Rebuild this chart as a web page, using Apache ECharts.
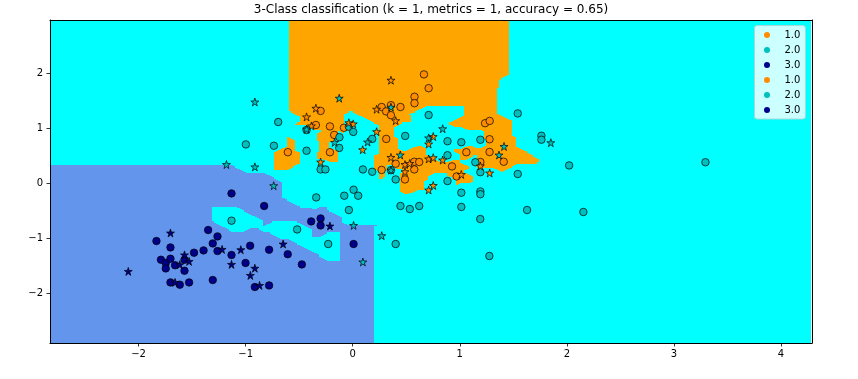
<!DOCTYPE html>
<html><head><meta charset="utf-8">
<script src="https://cdn.jsdelivr.net/npm/echarts@6/dist/echarts.min.js"></script>
<style>html,body{margin:0;padding:0;background:#fff}#c{width:858px;height:379px}</style>
</head><body><div id="c"></div>
<script>
const titleText = '3-Class classification (k = 1, metrics = 1, accuracy = 0.65)';
const classLabels = ['1.0', '2.0', '3.0'];
const xTicks = [-2, -1, 0, 1, 2, 3, 4];
const yTicks = [-2, -1, 0, 1, 2];
const xRange = [-2.827, 4.289];
const yRange = [-2.909, 2.964];
const meshStep = 0.02;

// training points (circles), per class
const trainClass1 = [[0.665,1.975],[0.709,1.724],[0.577,1.569],[0.577,1.451],[0.446,1.382],[0.270,1.382],[0.312,1.302],[0.357,1.415],[0.357,1.233],[-0.300,1.311],[-0.344,1.055],[-0.213,1.029],[-0.173,0.875],[-0.082,1.005],[-0.213,0.560],[-0.606,0.560],[0.313,0.802],[1.236,1.087],[1.279,1.129],[1.278,0.796],[1.061,0.560],[1.278,0.564],[0.575,0.387],[0.621,0.382],[0.927,0.302],[1.192,0.382],[1.410,0.387],[0.575,0.247],[0.488,0.065],[0.971,0.120],[0.401,0.351],[0.270,0.238]];
const trainClass2 = [[-0.696,1.109],[-0.431,0.964],[-0.736,0.678],[-0.431,0.587],[-0.124,0.833],[-0.126,0.638],[-0.036,1.024],[0.005,0.929],[0.182,0.802],[0.490,0.856],[-0.998,0.702],[-0.300,0.247],[-0.255,0.247],[0.095,0.247],[0.182,0.205],[0.357,0.233],[0.401,0.065],[0.885,0.505],[0.885,0.036],[0.885,0.760],[0.709,1.236],[1.541,1.265],[1.014,0.742],[1.192,0.787],[1.762,0.860],[1.762,0.787],[1.145,0.378],[2.021,0.320],[3.294,0.378],[1.192,0.196],[1.541,0.164],[1.014,-0.176],[1.192,-0.153],[1.192,-0.204],[0.446,-0.418],[0.533,-0.473],[0.621,-0.418],[1.014,-0.435],[1.628,-0.491],[2.154,-0.527],[1.191,-0.655],[1.276,-1.327],[0.401,-1.109],[-0.341,-0.262],[-0.079,-0.231],[0.008,-0.122],[0.051,-0.231],[-0.036,-0.491],[-0.519,-0.844],[-0.229,-1.109],[-1.132,-0.685]];
const trainClass3 = [[-1.132,-0.189],[-0.827,-0.418],[-0.388,-0.698],[-0.300,-0.644],[-0.300,-0.771],[0.008,-1.109],[-1.350,-0.855],[-1.263,-0.971],[-1.833,-1.055],[-1.702,-1.171],[-1.307,-1.098],[-1.482,-1.267],[-1.393,-1.225],[-1.263,-1.236],[-1.132,-1.309],[-0.958,-1.140],[-0.781,-1.213],[-0.607,-1.295],[-0.475,-1.480],[-1.001,-1.453],[-0.914,-1.891],[-0.781,-1.862],[-1.307,-1.764],[-1.791,-1.395],[-1.746,-1.455],[-1.702,-1.376],[-1.571,-1.395],[-1.659,-1.495],[-1.746,-1.553],[-1.571,-1.595],[-1.702,-1.807],[-1.615,-1.849],[-1.528,-1.807]];

// test points (stars), per class
const testClass1 = [[0.357,1.869],[-0.344,1.360],[-0.431,1.202],[-0.386,1.038],[-0.036,1.096],[0.005,1.075],[0.223,1.342],[0.401,1.133],[0.223,0.933],[0.093,0.605],[0.357,0.465],[-0.300,0.382],[0.752,0.845],[0.709,0.709],[0.709,0.438],[0.752,0.460],[0.840,0.418],[0.488,0.336],[0.532,0.355],[0.488,0.205],[1.014,0.155],[1.279,0.182],[1.192,0.309],[0.752,-0.045],[0.709,-0.127]];
const testClass2 = [[-0.914,1.473],[-1.179,0.336],[-0.914,0.293],[-0.738,-0.049],[-0.126,1.542],[-0.431,0.978],[-0.169,0.738],[0.139,0.745],[0.357,1.378],[0.444,0.509],[0.840,0.987],[0.709,0.820],[1.850,0.733],[1.413,0.664],[1.366,0.509],[0.008,-0.771],[0.271,-0.958],[0.095,-1.436],[0.357,0.233]];
const testClass3 = [[-0.213,-0.782],[-0.650,-1.109],[-0.914,-1.549],[-0.956,-1.680],[-0.870,-1.862],[-1.702,-0.909],[-1.220,-1.207],[-1.045,-1.213],[-1.132,-1.480],[-1.571,-1.307],[-1.528,-1.425],[-1.615,-1.485],[-2.096,-1.607],[-1.659,-1.807]];

const bgColors = ['#FFA500', '#00FFFF', '#6495ED'];
const ptColors = ['#FF8C00', '#00BFBF', '#00008B'];
const FONT = 'DejaVu Sans';
const STAR = 'path://M50,0L61.23,34.55L97.55,34.55L68.17,55.9L79.39,90.45L50,69.1L20.61,90.45L31.83,55.9L2.45,34.55L38.77,34.55Z';

// 1-nearest-neighbour (manhattan) decision regions from the training points
const train = [];
[trainClass1, trainClass2, trainClass3].forEach((arr, c) => arr.forEach(p => train.push([p[0], p[1], c])));
const h = meshStep;
const nx = Math.ceil((xRange[1] - xRange[0]) / h);
const ny = Math.ceil((yRange[1] - yRange[0]) / h);
const runs = [];
for (let j = 0; j < ny; j++) {
  const gy = yRange[0] + j * h;
  let start = 0, prev = -1;
  for (let i = 0; i < nx; i++) {
    const gx = xRange[0] + i * h;
    let best = Infinity, bc = 0;
    for (let k = 0; k < train.length; k++) {
      const t = train[k];
      const d = Math.abs(gx - t[0]) + Math.abs(gy - t[1]);
      if (d < best) { best = d; bc = t[2]; }
    }
    if (bc !== prev) {
      if (prev >= 0) runs.push([xRange[0] + (start - 0.5) * h, xRange[0] + (i - 0.5) * h, gy - h / 2, gy + h / 2, prev]);
      start = i; prev = bc;
    }
  }
  runs.push([xRange[0] + (start - 0.5) * h, xRange[0] + (nx - 0.5) * h, gy - h / 2, gy + h / 2, prev]);
}

const fmt = v => (v < 0 ? '\u2212' + (-v) : String(v));

const chart = echarts.init(document.getElementById('c'), null, {renderer: 'canvas'});
const series = [{
  type: 'custom', name: 'bg', silent: true, z: 1, progressive: 0,
  data: runs, encode: {x: [0, 1], y: [2, 3]},
  renderItem(params, api) {
    const p0 = api.coord([api.value(0), api.value(3)]);
    const p1 = api.coord([api.value(1), api.value(2)]);
    const cs = params.coordSys;
    const L = Math.max(cs.x, Math.round(p0[0]));
    const R = Math.min(cs.x + cs.width, Math.round(p1[0]));
    const T = Math.max(cs.y, Math.round(p0[1]));
    const B = Math.min(cs.y + cs.height, Math.round(p1[1]));
    if (R <= L || B <= T) return null;
    return {type: 'rect', shape: {x: L, y: T, width: R - L, height: B - T}, style: {fill: bgColors[api.value(4)]}};
  }
}];
[trainClass1, trainClass2, trainClass3].forEach((arr, c) => series.push({
  type: 'scatter', name: classLabels[c], data: arr, symbol: 'circle', symbolSize: 7.5, z: 3,
  itemStyle: {color: ptColors[c], borderColor: '#000', borderWidth: 0.7, opacity: 1}
}));
[testClass1, testClass2, testClass3].forEach((arr, c) => series.push({
  type: 'scatter', name: classLabels[c] + ' ', data: arr, symbol: STAR, symbolSize: 8, z: 4,
  itemStyle: {color: ptColors[c], borderColor: '#000', borderWidth: 0.7, opacity: 1}
}));

const legendData = [];
[0, 1, 2].forEach(c => legendData.push({name: classLabels[c], icon: 'circle', itemStyle: {color: ptColors[c], borderWidth: 0}}));
[0, 1, 2].forEach(c => legendData.push({name: classLabels[c] + ' ', icon: 'circle', itemStyle: {color: ptColors[c], borderWidth: 0}}));

const axisCommon = {
  type: 'value', splitLine: {show: false}, z: 10,
  axisLine: {show: true, onZero: false, lineStyle: {color: '#000', width: 1}},
};
chart.setOption({
  animation: false,
  title: {text: titleText, left: 431, top: 4, textAlign: 'center', padding: 0,
    textStyle: {fontFamily: FONT, fontSize: 12, fontWeight: 'normal', color: '#000'}},
  legend: {
    data: legendData, orient: 'vertical', left: 754.5, top: 25.5, selectedMode: false,
    formatter: n => n.trim(), itemWidth: 25, itemHeight: 6, itemGap: 3,
    padding: [3.5, 5, 3, 9.5], backgroundColor: '#CCFFFF', borderColor: '#A8D8D8', borderWidth: 1, borderRadius: 2.5,
    textStyle: {fontFamily: FONT, fontSize: 10, color: '#000', lineHeight: 12}
  },
  grid: {left: 50, top: 20, width: 762, height: 323, containLabel: false},
  xAxis: [
    Object.assign({}, axisCommon, {position: 'bottom', min: xRange[0], max: xRange[1],
      axisTick: {show: true, length: 3.5, lineStyle: {color: '#000', width: 0.8}, customValues: xTicks},
      axisLabel: {show: true, margin: 6, color: '#000', fontFamily: FONT, fontSize: 10, formatter: fmt, customValues: xTicks}}),
    Object.assign({}, axisCommon, {position: 'top', min: xRange[0], max: xRange[1], axisTick: {show: false}, axisLabel: {show: false}})
  ],
  yAxis: [
    Object.assign({}, axisCommon, {position: 'left', min: yRange[0], max: yRange[1],
      axisTick: {show: true, length: 3.5, lineStyle: {color: '#000', width: 0.8}, customValues: yTicks},
      axisLabel: {show: true, margin: 7, color: '#000', fontFamily: FONT, fontSize: 10, formatter: fmt, customValues: yTicks}}),
    Object.assign({}, axisCommon, {position: 'right', min: yRange[0], max: yRange[1], axisTick: {show: false}, axisLabel: {show: false}})
  ],
  series: series
});
</script>
</body></html>
